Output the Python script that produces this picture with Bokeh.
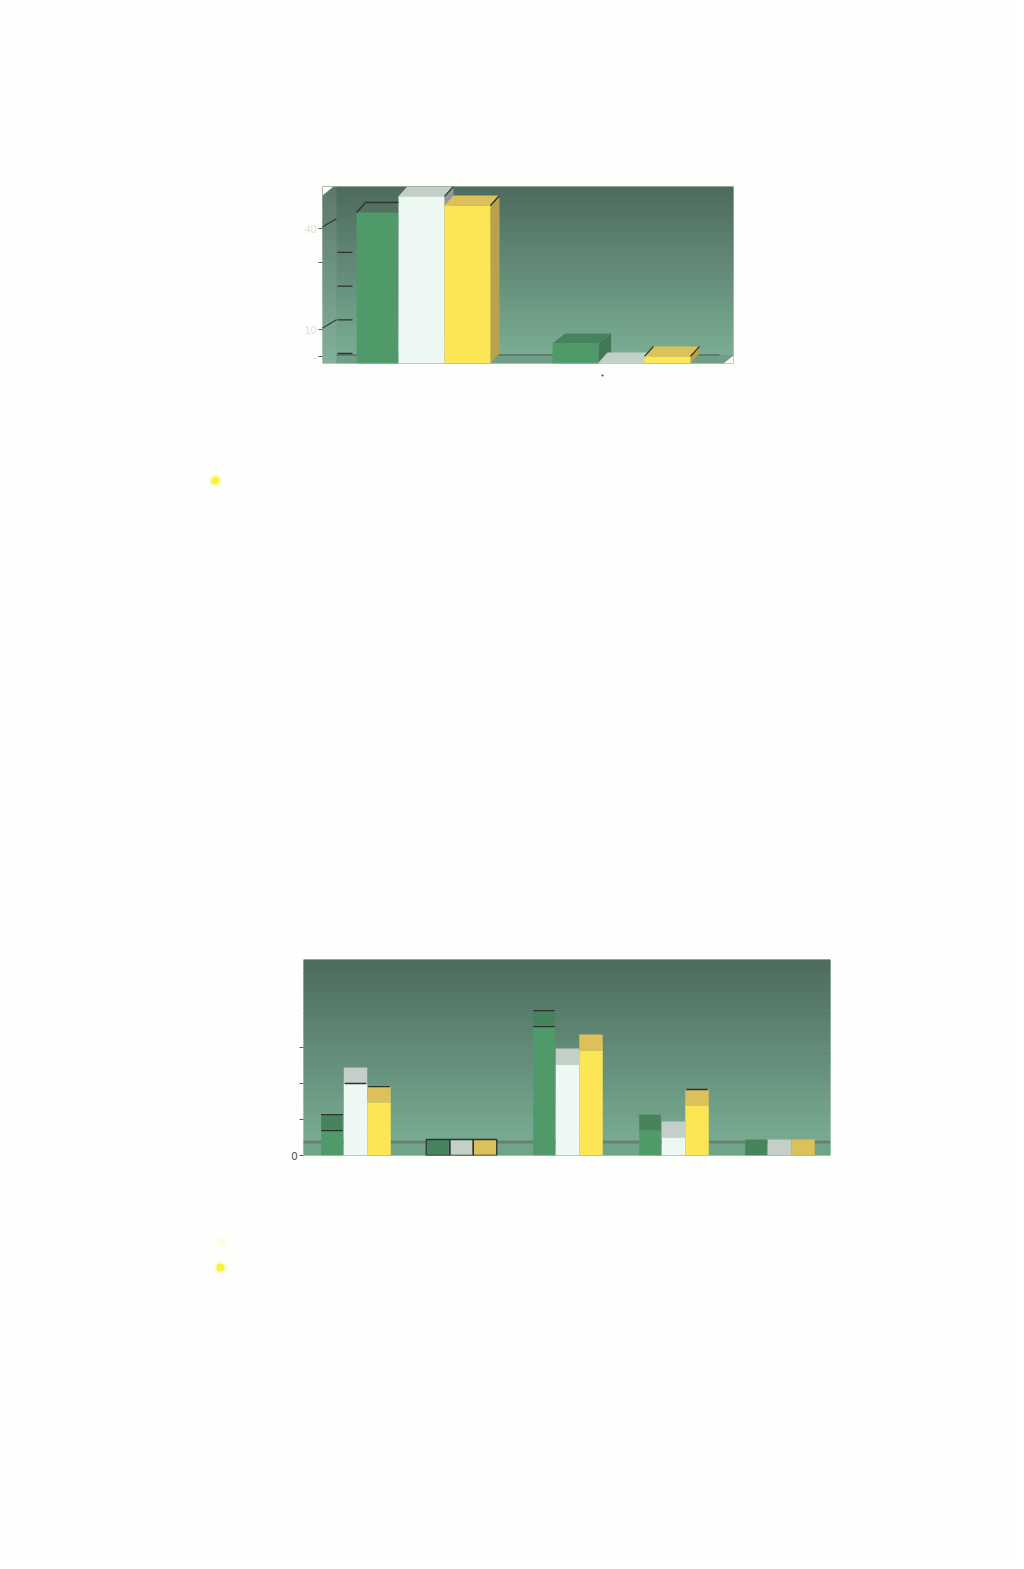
from bokeh.plotting import figure
from bokeh.layouts import column, row
from bokeh.models import FixedTicker, Range1d
from bokeh.embed import file_html
from bokeh.resources import INLINE

# ---- data ----
top_groups = [1, 2]
top_green = [44.8, 5.9]
top_white = [49.6, 0.3]
top_yellow = [46.9, 2.1]
top_ticks = [2, 10, 30, 40]
top_tick_labels = {2: "-", 10: "10", 30: "", 40: "40"}
top_wall_marks = [0, 10, 20, 30]

low_groups = [1, 2, 3, 4, 5]
low_green = [6.9, 0.0, 35.8, 6.9, 0.0]
low_white = [20.0, 0.0, 25.3, 5.0, 0.0]
low_yellow = [14.7, 0.0, 29.2, 13.9, 0.0]
low_ticks = [0, 10, 20, 30]
low_tick_labels = {0: "0", 10: "", 20: "", 30: ""}

# yellow list bullets beside each chart (page x, page y)
bullet_top = (215, 480)
bullet_low = (220, 1267)
ghost_low = (222, 1241)
stray_dot = (602, 375)

BG = "#fefefc"
INK = "#2d332f"
WALL_TOP = (78, 108, 95)
WALL_BOTTOM = (124, 176, 150)
GREEN, GREEN_TOP, GREEN_SIDE = "#4f9a68", "#47835c", "#3f7a55"
WHITE, WHITE_TOP, WHITE_SIDE = "#eef8f2", "#c3cfc8", "#8f9a94"
YELLOW, YELLOW_TOP, YELLOW_SIDE = "#fde656", "#dcc05a", "#b8a24e"
STRIPS = 44
PAGE_W = 1016


def base_fig(height, left, right, top, bottom, x0, x1, y1):
    p = figure(width=PAGE_W, height=height, output_backend="svg", toolbar_location=None,
               min_border_left=left, min_border_right=right, min_border_top=top, min_border_bottom=bottom,
               x_range=Range1d(x0, x1), y_range=Range1d(0, y1),
               background_fill_color=BG, border_fill_color=BG, outline_line_color=None)
    p.grid.visible = False
    p.xaxis.visible = False
    ax = p.yaxis[0]
    ax.axis_line_color = None
    ax.minor_tick_line_color = None
    ax.major_tick_in = 0
    ax.major_tick_out = 4
    ax.major_tick_line_color = "#555f58"
    ax.major_label_text_font_size = "8pt"
    ax.major_label_standoff = 2
    b = [y1 * i / STRIPS for i in range(STRIPS)]
    t = [y1 * (i + 1) / STRIPS for i in range(STRIPS)]
    cols = []
    for i in range(STRIPS):
        f = i / (STRIPS - 1)
        c = [int(WALL_BOTTOM[k] + (WALL_TOP[k] - WALL_BOTTOM[k]) * f) for k in range(3)]
        cols.append("#%02x%02x%02x" % tuple(c))
    p.quad(left=x0, right=x1, bottom=b, top=t, fill_color=cols, line_color=cols, line_width=1)
    return p


def bars(p, groups, vals, offset, w, dx, dy, front, topc, side):
    xl = [g + offset - w / 2 for g in groups]
    xr = [g + offset + w / 2 for g in groups]
    tops_x = [[a, b, b + dx, a + dx] for a, b in zip(xl, xr)]
    tops_y = [[v, v, v + dy, v + dy] for v in vals]
    side_x = [[b, b + dx, b + dx, b] for b in xr]
    side_y = [[0, dy, v + dy, v] for v in vals]
    if dx:
        p.patches(side_x, side_y, fill_color=side, line_color=None)
    p.patches(tops_x, tops_y, fill_color=topc, line_color=None)
    p.quad(left=xl, right=xr, bottom=0, top=vals, fill_color=front, line_color=None)


def strip(page_top, page_bottom):
    s = figure(width=PAGE_W, height=page_bottom - page_top, output_backend="svg", toolbar_location=None,
               x_range=Range1d(0, PAGE_W), y_range=Range1d(page_bottom, page_top),
               x_axis_location=None, y_axis_location=None,
               min_border=0, background_fill_color=BG, border_fill_color=BG, outline_line_color=None)
    s.grid.visible = False
    return s


def bullet(s, pt, alpha=1.0):
    s.scatter([pt[0]], [pt[1]], size=13, fill_color="#f8f7a0", fill_alpha=0.45 * alpha, line_color=None)
    s.scatter([pt[0]], [pt[1]], size=8, fill_color="#f6f33c", fill_alpha=alpha, line_color=None)


# ---- upper chart: frame x 322..733, y 186..363 ----
ppu_x = 200.0
x0 = 1 - 99 / ppu_x
x1 = x0 + 411 / ppu_x
ppu_y = 3.37
y1 = 177 / ppu_y
p1 = base_fig(372, 322, 283, 186, 9, x0, x1, y1)
p1.yaxis[0].ticker = FixedTicker(ticks=top_ticks)
p1.yaxis[0].major_label_overrides = top_tick_labels
p1.yaxis[0].major_label_text_color = "#dedfda"
w = 46 / ppu_x
dx = 9 / ppu_x
dy = 10 / ppu_y

p1.quad(left=x0, right=x0 + 14 / ppu_x, bottom=0, top=y1, fill_color="#a7b8ae", fill_alpha=0.18, line_color=None)
p1.quad(left=x0 + 14 / ppu_x, right=x1, bottom=0, top=dy * 0.85, fill_color="#6f9f88", line_color=None)
p1.segment(x0=x0 + 14 / ppu_x, x1=x1 - 14 / ppu_x, y0=dy * 0.85, y1=dy * 0.85, line_color="#5b6f64", line_width=1.5)
p1.segment(x0=[x0 + 15 / ppu_x] * 4, x1=[x0 + 30 / ppu_x] * 4,
           y0=[v + dy for v in top_wall_marks], y1=[v + dy for v in top_wall_marks],
           line_color=INK, line_width=1.3)
p1.segment(x0=[x0 - 3 / ppu_x] * 2, x1=[x0 + 14 / ppu_x] * 2,
           y0=[10, 40], y1=[10 + dy, 40 + dy], line_color=INK, line_width=1.1)
p1.patch([x0, x0 + 11 / ppu_x, x0], [y1 - 9 / ppu_y, y1, y1], fill_color=BG, line_color=None)
p1.patch([x1, x1, x1 - 10 / ppu_x], [0, 8 / ppu_y, 0], fill_color=BG, line_color=None)

g_off = -w * 0.96
g_w = w * 0.9
bars(p1, top_groups[:1], top_green[:1], g_off, g_w, 0, dy, GREEN, "#55705f", GREEN_SIDE)
bars(p1, top_groups[1:], top_green[1:], -w, w, dx * 1.4, dy, GREEN, GREEN_TOP, GREEN_SIDE)
bars(p1, top_groups, top_white, 0, w, dx, dy, WHITE, WHITE_TOP, WHITE_SIDE)
bars(p1, top_groups, top_yellow, w, w, dx, dy, YELLOW, YELLOW_TOP, YELLOW_SIDE)

# dark edge strokes on the upper chart's bars
gx = top_groups[0]
gl = gx + g_off - g_w / 2
p1.segment(x0=[gl, gl + dx], x1=[gl + dx, gx - w / 2],
           y0=[top_green[0], top_green[0] + dy], y1=[top_green[0] + dy, top_green[0] + dy],
           line_color=INK, line_width=1.3)
p1.segment(x0=[gx + w / 2, gx + w * 1.5], x1=[gx + w / 2 + dx, gx + w * 1.5 + dx],
           y0=[top_white[0], top_yellow[0]], y1=[top_white[0] + dy, top_yellow[0] + dy],
           line_color=INK, line_width=1.3)
gx = top_groups[1]
p1.segment(x0=[gx + w / 2, gx + w * 1.5], x1=[gx + w / 2 + dx, gx + w * 1.5 + dx],
           y0=[top_yellow[1], top_yellow[1]], y1=[top_yellow[1] + dy, top_yellow[1] + dy],
           line_color=INK, line_width=1.3)

# ---- strip between the charts ----
s1 = strip(372, 500)
s1.scatter([stray_dot[0]], [stray_dot[1]], size=2, fill_color="#3c3c3c", line_color=None)
bullet(s1, bullet_top)

# ---- lower chart: frame x 303..830, y 959..1155 ----
ppu_x2 = 106.0
xb0 = 1 - 52 / ppu_x2
xb1 = xb0 + 527 / ppu_x2
ppu_y2 = 3.6
yb1 = 196 / ppu_y2
p2 = base_fig(730, 303, 186, 459, 75, xb0, xb1, yb1)
p2.yaxis[0].ticker = FixedTicker(ticks=low_ticks)
p2.yaxis[0].major_label_overrides = low_tick_labels
p2.yaxis[0].major_label_text_color = "#3c3f3c"
w2 = 23.5 / ppu_x2
dy2 = 16 / ppu_y2
p2.quad(left=xb0, right=xb1, bottom=0, top=dy2 * 0.85, fill_color="#6fa488", line_color=None)
p2.segment(x0=xb0, x1=xb1, y0=dy2 * 0.85, y1=dy2 * 0.85, line_color="#6b7f74", line_width=3)
bars(p2, low_groups, low_green, -w2, w2 * 0.92, 0, dy2, GREEN, GREEN_TOP, GREEN_SIDE)
bars(p2, low_groups, low_white, 0, w2, 0, dy2, WHITE, WHITE_TOP, WHITE_SIDE)
bars(p2, low_groups, low_yellow, w2, w2, 0, dy2, YELLOW, YELLOW_TOP, YELLOW_SIDE)

hw = w2 * 0.46
edge_x = [low_groups[0] - w2, low_groups[0] - w2, low_groups[2] - w2, low_groups[2] - w2,
          low_groups[0], low_groups[0] + w2, low_groups[3] + w2]
edge_y = [low_green[0], low_green[0] + dy2, low_green[2], low_green[2] + dy2,
          low_white[0], low_yellow[0] + dy2, low_yellow[3] + dy2]
p2.segment(x0=[x - hw for x in edge_x], x1=[x + hw for x in edge_x], y0=edge_y, y1=edge_y,
           line_color=INK, line_width=1.4)
g2 = low_groups[1]
box_l = [g2 + k * w2 - w2 / 2 for k in (-1, 0, 1)]
p2.quad(left=box_l, right=[b + w2 for b in box_l], bottom=0, top=dy2, fill_alpha=0,
        line_color=INK, line_width=1.3)

# ---- strip under the lower chart ----
s2 = strip(1230, 1560)
bullet(s2, ghost_low, alpha=0.12)
bullet(s2, bullet_low)

page = column(row(p1), row(s1), row(p2), row(s2), spacing=0)
open("out.html", "w").write(file_html(page, INLINE))
